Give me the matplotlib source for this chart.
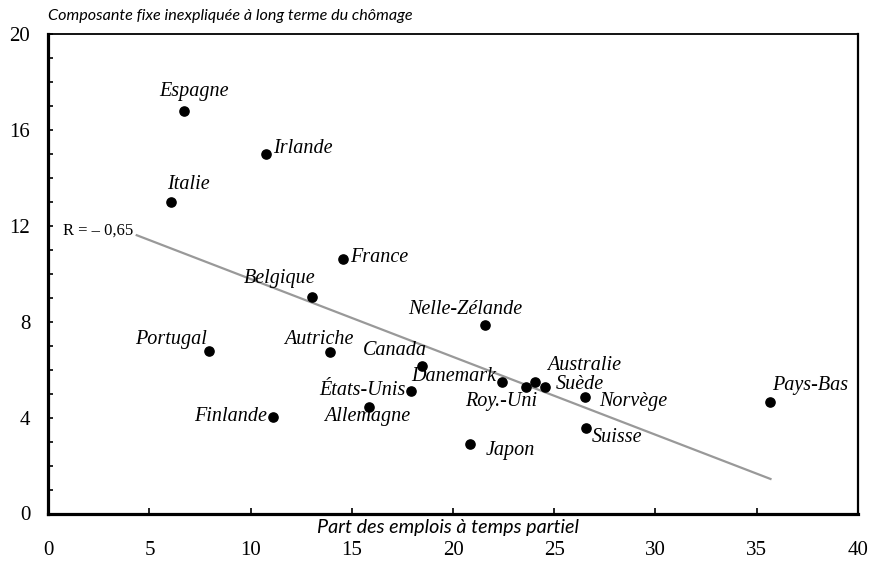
import numpy as np
import matplotlib.pyplot as plt

# Données
pays = ['Espagne', 'Irlande', 'Italie', 'France', 'Belgique', 'Nelle-Zélande',
        'Portugal', 'Autriche', 'Canada', 'États-Unis', 'Allemagne', 'Finlande',
        'Danemark', 'Roy.-Uni', 'Australie', 'Suède', 'Norvège', 'Suisse',
        'Japon', 'Pays-Bas']
temps_partiel = [6.72, 10.74, 6.06, 14.57, 13.04, 21.60,
                 7.94, 13.91, 18.49, 17.91, 15.84, 11.08,
                 22.40, 23.59, 24.07, 24.56, 26.54, 26.59,
                 20.84, 35.65]
chomage_fixe = [16.78, 14.98, 12.99, 10.60, 9.03, 7.85,
                6.77, 6.72, 6.15, 5.09, 4.45, 4.03,
                5.47, 5.28, 5.49, 5.28, 4.84, 3.55,
                2.88, 4.63]

# Droite de régression (extrémités lues)
droite_x = [4.37, 35.69]
droite_y = [11.60, 1.44]

x_ticks = [0, 5, 10, 15, 20, 25, 30, 35, 40]
y_ticks = [0, 4, 8, 12, 16, 20]

# placement des étiquettes: (dx, dy en pixels image, ha)
etiq = {
    'Espagne': (10, -19, 'center'), 'Irlande': (7, -6, 'left'),
    'Italie': (17, -17, 'center'), 'France': (7, -2, 'left'),
    'Belgique': (-33, -18, 'center'), 'Nelle-Zélande': (-20, -16, 'center'),
    'Portugal': (-2, -12, 'right'), 'Autriche': (-11, -13, 'center'),
    'Canada': (-28, -15, 'center'), 'États-Unis': (-5, -1, 'right'),
    'Allemagne': (-2, 10, 'center'), 'Finlande': (-6, 0, 'right'),
    'Danemark': (-5, -6, 'right'), 'Roy.-Uni': (-24, 15, 'center'),
    'Australie': (49, -16, 'center'), 'Suède': (10, -2, 'left'),
    'Norvège': (14, 4, 'left'), 'Suisse': (5, 9, 'left'),
    'Japon': (16, 6, 'left'), 'Pays-Bas': (2, -17, 'left'),
}

serif = 'Liberation Serif'

fig = plt.figure(figsize=(8.73, 5.61), dpi=100)
ax = fig.add_axes([48.3 / 873, 1 - 513.5 / 561, (857.7 - 48.3) / 873, (513.5 - 33.7) / 561])

ax.plot(droite_x, droite_y, color='#999999', lw=1.6, zorder=1)
ax.scatter(temps_partiel, chomage_fixe, s=44, color='black', zorder=3)

for nom, x, y in zip(pays, temps_partiel, chomage_fixe):
    dx, dy, ha = etiq[nom]
    ax.annotate(nom, (x, y), xytext=(dx, -dy), textcoords='offset pixels',
                ha=ha, va='center', fontsize=14.5, fontstyle='italic', family=serif)

ax.text(0.74, 11.77, 'R = – 0,65', fontsize=12, family=serif, va='center', ha='left')

ax.set_xlim(0, 40)
ax.set_ylim(0, 20)
ax.set_xticks(x_ticks)
ax.set_xticklabels([str(v) for v in x_ticks], family=serif, fontsize=15)
ax.set_yticks(y_ticks)
ax.set_yticklabels([str(v) for v in y_ticks], family=serif, fontsize=15)
ax.set_yticks(np.arange(0, 21, 1), minor=True)
ax.tick_params(axis='x', direction='in', length=4.5, width=1.2, pad=20)
ax.tick_params(axis='y', which='both', direction='in', length=3.6, width=1.2, pad=13)

ax.spines['left'].set_linewidth(2.3)
ax.spines['bottom'].set_linewidth(2.3)
ax.spines['right'].set_linewidth(1.6)
ax.spines['top'].set_linewidth(1.3)

fig.text(48.3 / 873, 1 - 16 / 561, 'Composante fixe inexpliquée à long terme du chômage',
         fontsize=11.6, fontstyle='italic', family='Lato', ha='left', va='center')
fig.text(448 / 873, 1 - 528 / 561, 'Part des emplois à temps partiel',
         fontsize=14.2, fontstyle='italic', family='Lato',
         ha='center', va='center')

fig.savefig('out.png', dpi=100)
